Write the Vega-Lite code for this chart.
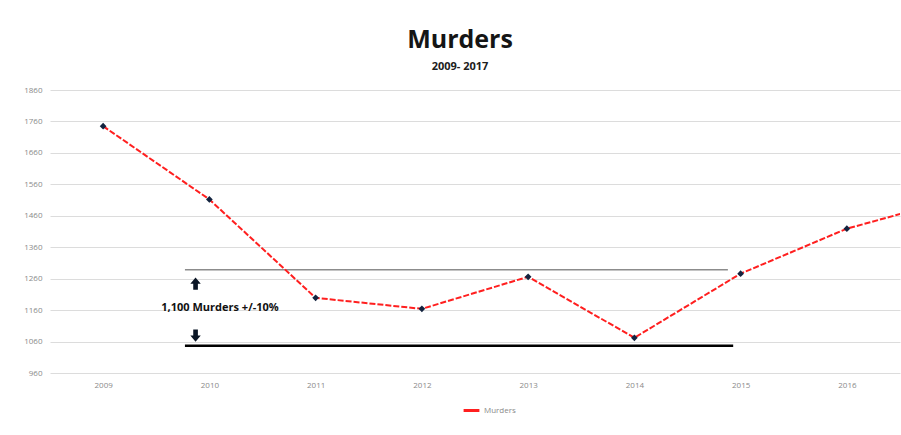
{
  "$schema": "https://vega.github.io/schema/vega-lite/v6.json",
  "autosize": "none",
  "width": 850,
  "height": 283,
  "padding": {"left": 50, "top": 90, "right": 1, "bottom": 62},
  "background": "white",
  "config": {"view": {"stroke": null}, "font": "Open Sans"},
  "title": {
    "text": "Murders",
    "subtitle": "2009- 2017",
    "anchor": "middle",
    "frame": "group",
    "dx": -15,
    "offset": 14,
    "font": "Open Sans",
    "fontSize": 25,
    "fontWeight": "bold",
    "color": "#151515",
    "subtitleFont": "Open Sans",
    "subtitleFontSize": 11,
    "subtitleFontWeight": "bold",
    "subtitleColor": "#202020",
    "subtitlePadding": 8
  },
  "datasets": {
    "murders": [
      {"year": 2009, "murders": 1745, "series": "Murders"},
      {"year": 2010, "murders": 1512, "series": "Murders"},
      {"year": 2011, "murders": 1199, "series": "Murders"},
      {"year": 2012, "murders": 1164, "series": "Murders"},
      {"year": 2013, "murders": 1266, "series": "Murders"},
      {"year": 2014, "murders": 1072, "series": "Murders"},
      {"year": 2015, "murders": 1276, "series": "Murders"},
      {"year": 2016, "murders": 1419, "series": "Murders"},
      {"year": 2017, "murders": 1512, "series": "Murders"}
    ],
    "bands": [
      {"x1": 2009.77, "x2": 2014.88, "y": 1288, "kind": "upper"},
      {"x1": 2009.77, "x2": 2014.93, "y": 1047, "kind": "lower"}
    ],
    "arrows": [
      {"x": 2009.87, "y": 1244, "dir": 0},
      {"x": 2009.87, "y": 1079, "dir": 180}
    ],
    "label": [
      {"x": 2010.1, "y": 1168, "text": "1,100 Murders +/-10%"}
    ]
  },
  "layer": [
    {
      "data": {"name": "bands"},
      "transform": [{"filter": "datum.kind == 'upper'"}],
      "mark": {"type": "rule", "color": "#8c8c8c", "strokeWidth": 1.5},
      "encoding": {
        "x": {"field": "x1", "type": "quantitative", "scale": {"domain": [2008.5, 2016.5], "nice": false, "zero": false},
          "axis": {"values": [2009, 2010, 2011, 2012, 2013, 2014, 2015, 2016], "tickCount": 20, "format": "d", "title": null, "grid": false, "domain": false, "ticks": false, "labelFontSize": 8, "labelColor": "#8a8a8a", "labelPadding": 8, "labelOverlap": false}},
        "x2": {"field": "x2"},
        "y": {"field": "y", "type": "quantitative", "scale": {"domain": [960, 1860], "nice": false, "zero": false},
          "axis": {"values": [960, 1060, 1160, 1260, 1360, 1460, 1560, 1660, 1760, 1860], "tickCount": 20, "format": "d", "title": null, "domain": false, "ticks": false, "gridColor": "#dcdcdc", "gridWidth": 1, "labelFontSize": 8, "labelColor": "#8a8a8a", "labelPadding": 8, "labelOverlap": false}}
      }
    },
    {
      "data": {"name": "bands"},
      "transform": [{"filter": "datum.kind == 'lower'"}],
      "mark": {"type": "rule", "color": "#000000", "strokeWidth": 2.5},
      "encoding": {
        "x": {"field": "x1", "type": "quantitative"},
        "x2": {"field": "x2"},
        "y": {"field": "y", "type": "quantitative"}
      }
    },
    {
      "data": {"name": "arrows"},
      "mark": {"type": "point", "shape": "M0,-1L0.85,0L0.38,0L0.38,1L-0.38,1L-0.38,0L-0.85,0Z", "filled": true, "color": "#0b1626", "size": 150, "opacity": 1},
      "encoding": {
        "x": {"field": "x", "type": "quantitative"},
        "y": {"field": "y", "type": "quantitative"},
        "angle": {"field": "dir", "type": "quantitative", "scale": null}
      }
    },
    {
      "data": {"name": "label"},
      "mark": {"type": "text", "font": "Open Sans", "fontSize": 11, "fontWeight": "bold", "color": "#111111", "align": "center", "baseline": "middle"},
      "encoding": {
        "x": {"field": "x", "type": "quantitative"},
        "y": {"field": "y", "type": "quantitative"},
        "text": {"field": "text"}
      }
    },
    {
      "data": {"name": "murders"},
      "mark": {"type": "line", "strokeWidth": 2, "strokeDash": [6, 2], "clip": true},
      "encoding": {
        "x": {"field": "year", "type": "quantitative"},
        "y": {"field": "murders", "type": "quantitative"},
        "color": {"field": "series", "type": "nominal", "scale": {"domain": ["Murders"], "range": ["#ff1f1f"]},
          "legend": {"title": null, "orient": "none", "legendX": 412, "legendY": 311, "symbolType": "stroke", "symbolStrokeWidth": 3, "symbolSize": 250, "labelFontSize": 8, "labelColor": "#8a8a8a", "labelOffset": 3}}
      }
    },
    {
      "data": {"name": "murders"},
      "mark": {"type": "point", "shape": "diamond", "filled": true, "color": "#13233f", "size": 45, "opacity": 1, "clip": true},
      "encoding": {
        "x": {"field": "year", "type": "quantitative"},
        "y": {"field": "murders", "type": "quantitative"}
      }
    }
  ]
}
